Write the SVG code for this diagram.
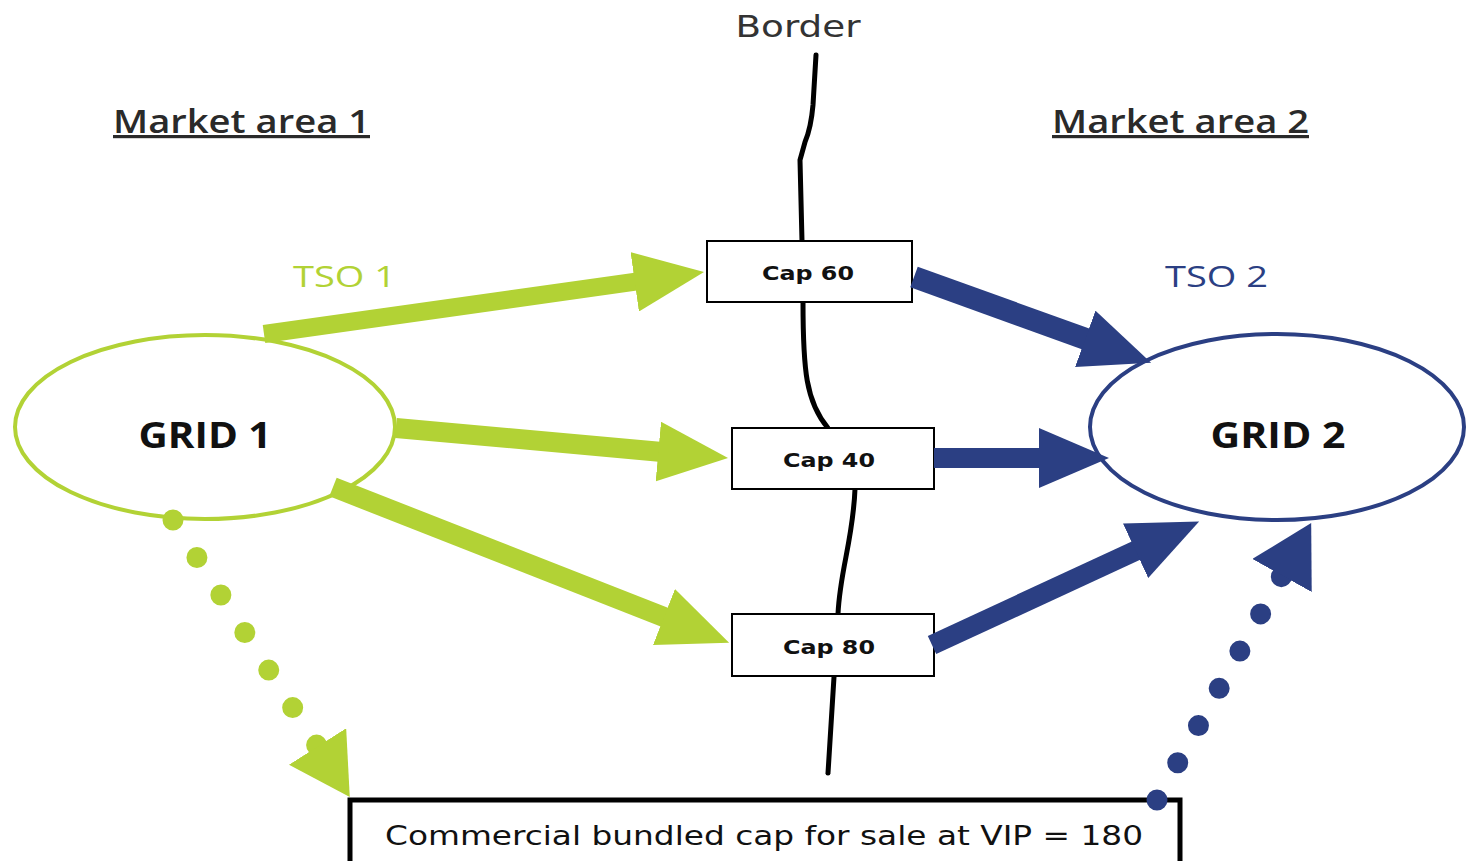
<svg xmlns="http://www.w3.org/2000/svg" width="1466" height="861" viewBox="0 0 1466 861">
<defs>
<style>
.g{fill:#b2d235}
.b{fill:#2b3f83}
.box{fill:#fff;stroke:#000;stroke-width:2}
.cap{font-family:"DejaVu Sans",Verdana,sans-serif;font-weight:bold;font-size:20px;fill:#111;text-anchor:middle}
.grid{font-family:"Open Sans","Liberation Sans",sans-serif;font-weight:bold;font-size:35px;fill:#111;text-anchor:middle}
.hdr{font-family:"Open Sans","Liberation Sans",sans-serif;font-weight:600;font-size:32px;fill:#2a2a2a;text-decoration:underline}
.tso{font-family:"Open Sans","Liberation Sans",sans-serif;font-size:30px}
.sg{stroke:#b2d235;fill:none}
.sb{stroke:#2b3f83;fill:none}
.dot{stroke-width:21;stroke-linecap:round}
</style>
<marker id="hg" markerUnits="userSpaceOnUse" viewBox="0 0 70 60" markerWidth="70" markerHeight="60" refX="1" refY="30" orient="auto"><path d="M0,0 L70,30 L0,60 z" fill="#b2d235"/></marker>
<marker id="hb" markerUnits="userSpaceOnUse" viewBox="0 0 70 60" markerWidth="70" markerHeight="60" refX="1" refY="30" orient="auto"><path d="M0,0 L70,30 L0,60 z" fill="#2b3f83"/></marker>
<marker id="hgd" markerUnits="userSpaceOnUse" viewBox="0 0 60 68" markerWidth="60" markerHeight="68" refX="0" refY="34" orient="auto"><path d="M0,0 L60,34 L0,68 z" fill="#b2d235"/></marker>
<marker id="hbd" markerUnits="userSpaceOnUse" viewBox="0 0 60 68" markerWidth="60" markerHeight="68" refX="0" refY="34" orient="auto"><path d="M0,0 L60,34 L0,68 z" fill="#2b3f83"/></marker>
</defs>
<rect width="1466" height="861" fill="#fff"/>

<g id="labels">
<text x="798" y="37" font-family="'DejaVu Sans',Verdana,sans-serif" font-size="30" fill="#333" text-anchor="middle" textLength="125" lengthAdjust="spacingAndGlyphs">Border</text>
<text class="hdr" x="113" y="133" textLength="257" lengthAdjust="spacingAndGlyphs">Market area 1</text>
<text class="hdr" x="1052" y="133" textLength="257" lengthAdjust="spacingAndGlyphs">Market area 2</text>
<text class="tso" x="293" y="287" fill="#b2d235" textLength="103" lengthAdjust="spacingAndGlyphs">TSO 1</text>
<text class="tso" x="1165" y="287" fill="#2b3f83" textLength="103" lengthAdjust="spacingAndGlyphs">TSO 2</text>
</g>

<g id="border-line" fill="none" stroke="#000" stroke-width="5" stroke-linecap="round">
<path d="M816,55 L813,105 Q811,128 805,142 L800,160 L802,241"/>
<path d="M803,302 C803,370 806,402 828,428"/>
<path d="M855,489 C853,540 840,570 838,614"/>
<path d="M834,677 L828,773"/>
</g>

<g id="grid1">
<ellipse cx="205" cy="427" rx="190" ry="92" fill="#fff" stroke="#b2d235" stroke-width="4"/>
<text class="grid" x="205" y="448" textLength="133" lengthAdjust="spacingAndGlyphs">GRID 1</text>
</g>
<g id="grid2">
<ellipse cx="1277" cy="427" rx="187" ry="93" fill="#fff" stroke="#2b3f83" stroke-width="4"/>
<text class="grid" x="1278" y="448" textLength="135" lengthAdjust="spacingAndGlyphs">GRID 2</text>
</g>
<g id="cap60">
<rect class="box" x="707" y="241" width="205" height="61"/>
<text class="cap" x="808" y="280" textLength="92" lengthAdjust="spacingAndGlyphs">Cap 60</text>
</g>
<g id="cap40">
<rect class="box" x="732" y="428" width="202" height="61"/>
<text class="cap" x="829" y="467" textLength="92" lengthAdjust="spacingAndGlyphs">Cap 40</text>
</g>
<g id="cap80">
<rect class="box" x="732" y="614" width="202" height="62"/>
<text class="cap" x="829" y="654" textLength="92" lengthAdjust="spacingAndGlyphs">Cap 80</text>
</g>
<g id="vip">
<rect x="350" y="800" width="830" height="80" fill="#fff" stroke="#000" stroke-width="5"/>
<text x="385" y="845" font-family="'DejaVu Sans',Verdana,sans-serif" font-size="26" fill="#111" textLength="758" lengthAdjust="spacingAndGlyphs">Commercial bundled cap for sale at VIP = 180</text>
</g>

<g id="connectors">
<line class="sg" x1="264" y1="334" x2="635.7" y2="281.7" stroke-width="18" marker-end="url(#hg)"/>
<line class="sg" x1="396" y1="428" x2="659.3" y2="451.7" stroke-width="20" marker-end="url(#hg)"/>
<line class="sg" x1="333" y1="487" x2="664.9" y2="617.4" stroke-width="20" marker-end="url(#hg)"/>
<line class="sb" x1="914" y1="277" x2="1086.2" y2="339.2" stroke-width="22" marker-end="url(#hb)"/>
<line class="sb" x1="934" y1="458" x2="1040" y2="458" stroke-width="20" marker-end="url(#hb)"/>
<line class="sb" x1="932" y1="645" x2="1136.5" y2="550.4" stroke-width="20" marker-end="url(#hb)"/>
<line class="sg dot" x1="173" y1="520" x2="317.5" y2="746.5" stroke-dasharray="0 44.5" marker-end="url(#hgd)"/>
<line class="sb dot" x1="1157" y1="800" x2="1282" y2="575.5" stroke-dasharray="0 42.6" marker-end="url(#hbd)"/>
</g>
</svg>
